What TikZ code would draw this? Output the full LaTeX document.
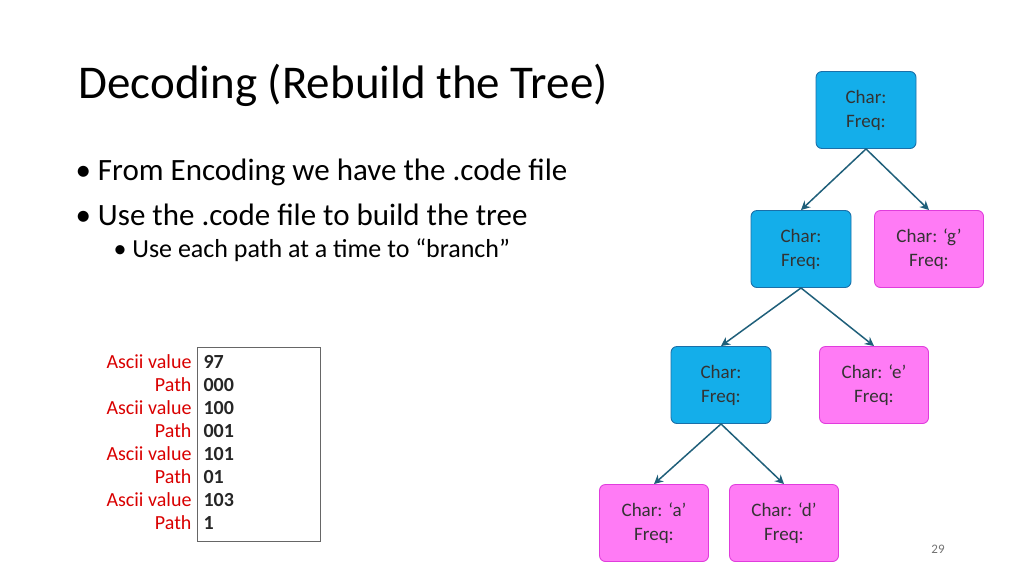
\documentclass[tikz,border=0pt]{standalone}
\usepackage{fontspec}
\setmainfont{Carlito}
\usetikzlibrary{arrows.meta}
\definecolor{bfill}{HTML}{14AEEA}
\definecolor{bdraw}{HTML}{1A6FA8}
\definecolor{pfill}{HTML}{FF7BF5}
\definecolor{pdraw}{HTML}{E03CDC}
\definecolor{arr}{HTML}{1F5F7A}
\begin{document}
\begin{tikzpicture}[x=1pt,y=-1pt,
 bn/.style={draw=bdraw,line width=0.9pt,fill=bfill,rounded corners=6pt,minimum width=100pt,minimum height=77pt,align=center,font=\fontsize{19}{24}\selectfont,text=black!80},
 pn/.style={draw=pdraw,line width=0.9pt,fill=pfill,rounded corners=6pt,minimum width=109pt,minimum height=77pt,align=center,font=\fontsize{19}{24}\selectfont,text=black!80},
 ar/.style={draw=arr,line width=1.5pt,-{Stealth[length=9pt,width=9pt]}},
 lab/.style={anchor=east,text=red!85!black,font=\fontsize{20}{22}\selectfont},
 val/.style={anchor=west,font=\fontsize{20}{22}\selectfont\bfseries,text=black!85}]
\useasboundingbox (0,0) rectangle (1024,576);
\node[anchor=west,font=\fontsize{47}{50}\selectfont] (title) at (75,85) {Decoding (Rebuild the Tree)};
\node[anchor=west,font=\fontsize{31}{33}\selectfont] (b1) at (72,172) {\textbullet\ From Encoding we have the .code file};
\node[anchor=west,font=\fontsize{31}{33}\selectfont] (b2) at (72,215) {\textbullet\ Use the .code file to build the tree};
\node[anchor=west,font=\fontsize{26}{28}\selectfont] (b3) at (110,250) {\textbullet\ Use each path at a time to “branch”};
\node[bn] (r) at (866,110) {Char:\\Freq:};
\node[bn] (n1) at (801,249) {Char:\\Freq:};
\node[pn] (g) at (929,249) {Char: ‘g’\\Freq:};
\node[bn] (n2) at (721,385) {Char:\\Freq:};
\node[pn] (e) at (874,385) {Char: ‘e’\\Freq:};
\node[pn] (a) at (654,523) {Char: ‘a’\\Freq:};
\node[pn] (d) at (784,523) {Char: ‘d’\\Freq:};
\draw[ar] (r.south) -- (n1.north);
\draw[ar] (r.south) -- (g.north);
\draw[ar] (n1.south) -- (n2.north);
\draw[ar] (n1.south) -- (e.north);
\draw[ar] (n2.south) -- (a.north);
\draw[ar] (n2.south) -- (d.north);
\node[draw=black!60,line width=0.6pt,minimum width=123pt,minimum height=194pt,anchor=north west] (box) at (197,347) {};
\foreach \i/\l/\v in {0/Ascii value/97,1/Path/000,2/Ascii value/100,3/Path/001,4/Ascii value/101,5/Path/01,6/Ascii value/103,7/Path/1}{
 \node[lab] (l\i) at (195,362+23*\i) {\l};
 \node[val] (v\i) at (200,362+23*\i) {\v};
}
\node[font=\fontsize{13}{14}\selectfont,text=black!55] (pg) at (938,549) {29};
\end{tikzpicture}
\end{document}
